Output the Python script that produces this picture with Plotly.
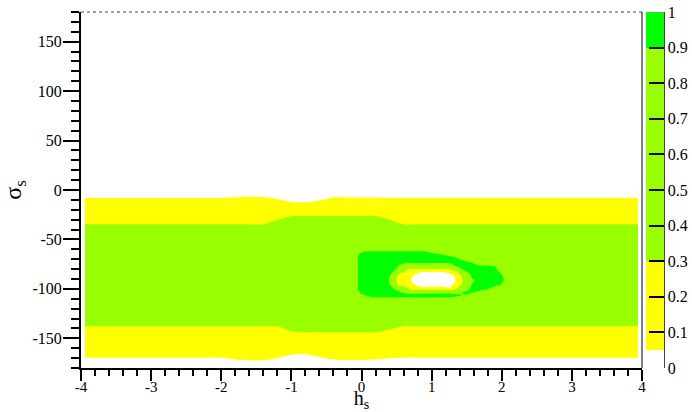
import plotly.graph_objects as go

# ---------------- data ----------------
# contour levels (probability), colour bands: white <0.05, yellow 0.05-0.3,
# light green 0.3-0.9, green >0.9
level_start, level_end, level_step = 0.05, 0.9, 0.05
band_edges = [0.05, 0.3, 0.9]

# broad band structure over the whole h_s range
h_band = [-3.943, -2.2, -2.0, -1.7, -1.4, -1.2, -1.0, -0.8, -0.6, -0.4, -0.2,
          0.0, 0.2, 0.4, 0.6, 0.8, 3.943]
sigma_band = [-180, -176, -162, -148, -132, -120, -90, -60, -36, -24, -14, -4, 180]

b_m180 = [0, 0, 0, 0, 0, 0, 0, 0, 0, 0, 0, 0, 0, 0, 0, 0, 0]
b_m176 = [0, 0, 0, 0, 0, 0, 0, 0, 0, 0, 0, 0, 0, 0, 0, 0, 0]
b_m162 = [.108, .108, .108, .175, .175, .117, .074, .070, .100, .156, .175, .175, .156, .117, .108, .108, .108]
b_m148 = [.159, .159, .159, .159, .159, .159, .264, .273, .273, .273, .273, .273, .273, .238, .159, .159, .159]
b_m132 = [.38, .38, .38, .38, .38, .38, .38, .38, .38, .38, .38, .38, .38, .38, .38, .38, .38]
b_m120 = [.55, .55, .55, .55, .55, .55, .55, .55, .55, .55, .55, .55, .55, .55, .55, .55, .55]
b_m90 = [.65, .65, .65, .65, .65, .65, .65, .65, .65, .65, .65, .65, .65, .65, .65, .65, .65]
b_m60 = [.55, .55, .55, .55, .55, .55, .55, .55, .55, .55, .55, .55, .55, .55, .55, .55, .55]
b_m36 = [.314, .314, .314, .314, .314, .36, .414, .427, .427, .427, .427, .427, .427, .36, .314, .314, .314]
b_m24 = [.20, .20, .20, .20, .20, .24, .27, .27, .27, .27, .27, .27, .27, .24, .20, .20, .20]
b_m14 = [.125, .125, .125, .167, .167, .100, .0625, .059, .077, .143, .143, .143, .143, .132, .132, .132, .132]
b_m4 = [0, 0, 0, 0, 0, 0, 0, 0, 0, 0, 0, 0, 0, 0, 0, 0, 0]
b_p180 = [0, 0, 0, 0, 0, 0, 0, 0, 0, 0, 0, 0, 0, 0, 0, 0, 0]
z_band = [b_m180, b_m176, b_m162, b_m148, b_m132, b_m120, b_m90, b_m60,
          b_m36, b_m24, b_m14, b_m4, b_p180]

# local structure around the maximum near h_s ~ 1, sigma_s ~ -90
h_peak = [-0.3, -0.1, 0.0, 0.15, 0.3, 0.42, 0.52, 0.62, 0.74, 0.86, 1.0, 1.14,
          1.26, 1.37, 1.47, 1.57, 1.68, 1.8, 1.92, 2.0, 2.1, 2.3]
sigma_peak = [-118, -110, -106.5, -103.5, -100.5, -96, -91, -86, -81, -77, -73,
              -67, -62, -57, -50]

p_m118 = [.70, .70, .70, .70, .70, .70, .70, .70, .70, .70, .70, .70, .70, .70, .70, .70, .70, .70, .70, .70, .70, .70]
p_m110 = [.70, .70, .75, .865, .865, .865, .865, .865, .865, .865, .865, .865, .865, .775, .70, .70, .70, .70, .70, .70, .70, .70]
p_m106 = [.70, .70, .875, .945, .945, .945, .945, .945, .945, .945, .945, .945, .945, .945, .885, .70, .70, .70, .70, .70, .70, .70]
p_m103 = [.70, .775, .945, .945, .945, .945, .925, .865, .865, .865, .865, .865, .865, .825, .945, .945, .825, .70, .70, .70, .70, .70]
p_m100 = [.70, .855, .945, .945, .945, .925, .875, .60, .12, .12, .12, .12, .10, .40, .775, .945, .945, .895, .70, .70, .70, .70]
p_m96 = [.70, .855, .945, .945, .945, .895, .28, .18, .07, 0, 0, 0, 0, .14, .46, .905, .945, .945, .945, .885, .70, .70]
p_m91 = [.70, .855, .945, .945, .945, .885, .18, .18, 0, 0, 0, 0, 0, .07, .40, .875, .945, .945, .945, .935, .815, .70]
p_m86 = [.70, .855, .945, .945, .945, .895, .28, .18, .06, 0, 0, 0, 0, .11, .58, .935, .945, .945, .945, .905, .70, .70]
p_m81 = [.70, .855, .945, .945, .945, .935, .875, .35, .08, .08, .08, .08, .20, .48, .945, .945, .945, .945, .945, .70, .70, .70]
p_m77 = [.70, .855, .945, .945, .945, .945, .905, .75, .75, .75, .75, .75, .775, .945, .945, .945, .945, .945, .875, .70, .70, .70]
p_m73 = [.70, .855, .945, .945, .945, .945, .945, .945, .945, .945, .945, .945, .945, .945, .945, .895, .70, .70, .70, .70, .70, .70]
p_m67 = [.70, .855, .945, .945, .945, .945, .945, .945, .945, .945, .945, .945, .905, .875, .70, .70, .70, .70, .70, .70, .70, .70]
p_m62 = [.70, .70, .885, .905, .905, .905, .905, .905, .905, .905, .875, .815, .70, .70, .70, .70, .70, .70, .70, .70, .70, .70]
p_m57 = [.70, .70, .70, .70, .70, .70, .70, .70, .70, .70, .70, .70, .70, .70, .70, .70, .70, .70, .70, .70, .70, .70]
p_m50 = [.70, .70, .70, .70, .70, .70, .70, .70, .70, .70, .70, .70, .70, .70, .70, .70, .70, .70, .70, .70, .70, .70]
z_peak = [p_m118, p_m110, p_m106, p_m103, p_m100, p_m96, p_m91, p_m86, p_m81,
          p_m77, p_m73, p_m67, p_m62, p_m57, p_m50]

# axes
h_ticks = [-4, -3, -2, -1, 0, 1, 2, 3, 4]
h_labels = ["-4", "-3", "-2", "-1", "0", "1", "2", "3", "4"]
sigma_ticks = [-150, -100, -50, 0, 50, 100, 150]
sigma_labels = ["-150", "-100", "-50", "0", "50", "100", "150"]
cbar_range = [0, 1]

# ---------------- styling ----------------
WHITE, YELLOW, LGREEN, GREEN = "#ffffff", "#ffff00", "#99ff00", "#00ff00"
FONT = "Liberation Serif, Times New Roman, Times, DejaVu Serif, serif"

# colours of contour fill bands (fill colour sampled at band middle)
fill_scale = [[0, WHITE], [0.0278, WHITE], [0.0278, YELLOW], [0.3056, YELLOW],
              [0.3056, LGREEN], [0.9722, LGREEN], [0.9722, GREEN], [1, GREEN]]
e0, e1, e2 = band_edges
cbar_scale = [[0, WHITE], [e0, WHITE], [e0, YELLOW], [e1, YELLOW],
              [e1, LGREEN], [e2, LGREEN], [e2, GREEN], [1, GREEN]]

contour_style = dict(
    autocontour=False,
    contours=dict(start=level_start, end=level_end, size=level_step,
                  coloring="fill", showlines=False),
    colorscale=fill_scale, line=dict(width=0), showscale=False,
    hoverinfo="skip",
)

fig = go.Figure()
fig.add_trace(go.Contour(x=h_band, y=sigma_band, z=z_band, **contour_style))
fig.add_trace(go.Contour(x=h_peak, y=sigma_peak, z=z_peak, **contour_style))

# colour scale shown on the right (trace placed outside the visible range)
fig.add_trace(go.Heatmap(
    z=[cbar_range], x=[10, 11], y=[0], zmin=cbar_range[0], zmax=cbar_range[1],
    colorscale=cbar_scale, hoverinfo="skip", showscale=True,
    colorbar=dict(
        x=1.0071, xanchor="left", xpad=0, y=0.5, yanchor="middle",
        len=1, lenmode="fraction", ypad=0, thickness=18, thicknessmode="pixels",
        outlinewidth=0, ticks="inside", ticklen=15, tickwidth=1.5,
        tickcolor="black", tick0=0, dtick=0.1,
        tickfont=dict(family=FONT, size=16, color="black"),
    ),
))

axis_common = dict(showgrid=False, zeroline=False, showline=True,
                   linecolor="black", linewidth=2, ticks="outside",
                   tickcolor="black", tickwidth=1.5)

fig.update_layout(
    width=692, height=412,
    margin=dict(l=81, r=50, t=12, b=44, autoexpand=False),
    paper_bgcolor="white", plot_bgcolor="white",
    hovermode=False, showlegend=False,
    xaxis=dict(range=[-4, 4], tickmode="array", tickvals=h_ticks,
               ticktext=h_labels, ticklen=11, ticklabelstandoff=-7,
               tickfont=dict(family=FONT, size=15, color="black"),
               minor=dict(dtick=0.2, tick0=0, ticks="outside", ticklen=6,
                          tickwidth=1.5, tickcolor="black", showgrid=False),
               title=dict(text="h<sub>s</sub>", standoff=7,
                          font=dict(family=FONT, size=20, color="black")),
               **axis_common),
    yaxis=dict(range=[-180, 180], tickmode="array", tickvals=sigma_ticks,
               ticktext=sigma_labels, ticklen=16, ticklabelstandoff=-2,
               tickfont=dict(family=FONT, size=16, color="black"),
               minor=dict(dtick=10, tick0=0, ticks="outside", ticklen=8,
                          tickwidth=1.5, tickcolor="black", showgrid=False),
               title=dict(text="σ<sub>s</sub>", standoff=8,
                          font=dict(family=FONT, size=24, color="black")),
               **axis_common),
    shapes=[
        dict(type="line", xref="paper", yref="paper", x0=0, x1=1, y0=1, y1=1,
             line=dict(color="#444444", width=1, dash="dot")),
        dict(type="line", xref="paper", yref="paper", x0=1, x1=1, y0=0, y1=1,
             line=dict(color="black", width=1)),
        dict(type="line", xref="paper", yref="paper", x0=1.0392, x1=1.0392,
             y0=0, y1=1, line=dict(color="black", width=1.5)),
    ],
)

fig.write_html("out.html")
